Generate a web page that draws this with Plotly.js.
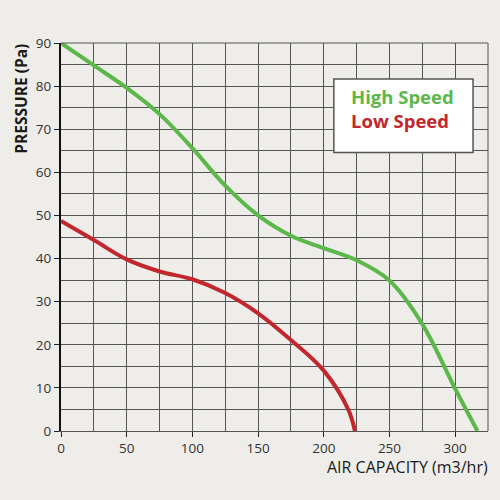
<!DOCTYPE html>
<html>
<head>
<meta charset="utf-8">
<script src="https://cdn.plot.ly/plotly-3.0.1.min.js"></script>
<style>html,body{margin:0;padding:0;background:#eeede9;}#chart{width:500px;height:500px;}</style>
</head>
<body>
<div id="chart"></div>
<script>
const highX = [0, 25, 50, 75, 100, 125, 150, 175, 200, 225, 250, 275, 300, 317];
const highY = [90, 84.8, 79.6, 73.5, 65.6, 56.9, 50.0, 45.3, 42.4, 39.6, 34.9, 24.8, 9.8, 0];
const lowX = [0, 25, 50, 75, 100, 125, 150, 175, 200, 218.6, 223.7];
const lowY = [48.7, 44.3, 39.8, 37, 35.2, 32.0, 27.3, 21.1, 14.0, 5, 0];
const seriesNames = ["High Speed", "Low Speed"];
const xTitle = "AIR CAPACITY (m3/hr)";
const yTitle = "PRESSURE (Pa)";

const green = "#5cb84a", red = "#c1272d";
const font = "'Open Sans', Lato, sans-serif";

const traces = [
  {x: highX, y: highY, mode: "lines", name: seriesNames[0], line: {color: green, width: 4, shape: "spline", smoothing: 1}},
  {x: lowX, y: lowY, mode: "lines", name: seriesNames[1], line: {color: red, width: 4, shape: "spline", smoothing: 1}}
];

const layout = {
  width: 500, height: 500,
  margin: {l: 61, r: 12, t: 43, b: 69},
  paper_bgcolor: "#eeede9", plot_bgcolor: "#eeede9",
  showlegend: false,
  font: {family: font, color: "#333", size: 13},
  xaxis: {
    range: [0, 325], dtick: 50, tick0: 0,
    showgrid: true, gridcolor: "#555", gridwidth: 1,
    minor: {dtick: 25, showgrid: true, gridcolor: "#555", gridwidth: 1},
    showline: true, linecolor: "#555", linewidth: 1,
    ticks: "outside", ticklen: 5, tickcolor: "#222",
    zeroline: false, fixedrange: true,
    tickfont: {size: 13.5, color: "#333", family: font}
  },
  yaxis: {
    range: [0, 90], dtick: 10, tick0: 0,
    showgrid: true, gridcolor: "#555", gridwidth: 1,
    minor: {dtick: 5, showgrid: true, gridcolor: "#555", gridwidth: 1},
    showline: true, linecolor: "#111", linewidth: 2,
    ticks: "outside", ticklen: 5, tickcolor: "#222",
    zeroline: false, fixedrange: true,
    tickfont: {size: 13.5, color: "#333", family: font}
  },
  shapes: [
    {type: "line", xref: "paper", yref: "paper", x0: 0, x1: 1, y0: 1, y1: 1, line: {color: "#555", width: 1}},
    {type: "line", xref: "paper", yref: "paper", x0: 1, x1: 1, y0: 0, y1: 1, line: {color: "#555", width: 1}},
    {type: "rect", xref: "paper", yref: "paper", x0: 0.639, x1: 0.965, y0: 0.7175, y1: 0.907,
     fillcolor: "#ffffff", line: {color: "#555", width: 1.5}, layer: "above"}
  ],
  annotations: [
    {xref: "paper", yref: "paper", x: 0.677, y: 0.863, xanchor: "left", yanchor: "middle", showarrow: false, borderpad: 0,
     text: "<b>" + seriesNames[0] + "</b>", font: {family: font, size: 18.5, color: green}},
    {xref: "paper", yref: "paper", x: 0.677, y: 0.8005, xanchor: "left", yanchor: "middle", showarrow: false, borderpad: 0,
     text: "<b>" + seriesNames[1] + "</b>", font: {family: font, size: 18.5, color: red}},
    {xref: "paper", yref: "paper", x: 1.005, y: -0.093, xanchor: "right", yanchor: "middle", showarrow: false,
     text: xTitle, font: {family: font, size: 16, color: "#1a1a1a"}},
    {xref: "paper", yref: "paper", x: -0.094, y: 1.003, xanchor: "center", yanchor: "top", showarrow: false, textangle: -90,
     text: "<b>" + yTitle + "</b>", font: {family: font, size: 15.5, color: "#1a1a1a"}}
  ]
};

Plotly.newPlot("chart", traces, layout, {displayModeBar: false, staticPlot: true});
</script>
</body>
</html>
